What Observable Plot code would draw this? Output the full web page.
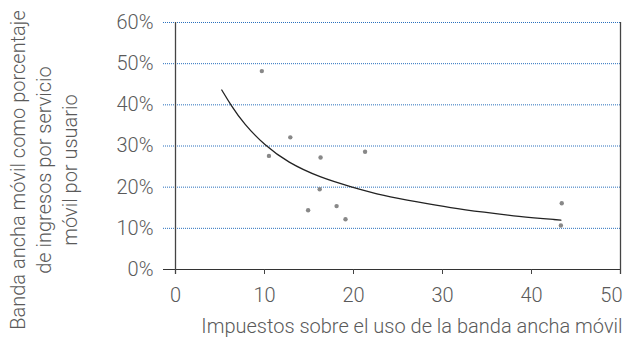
<!DOCTYPE html>
<html>
<head>
<meta charset="utf-8">
<script src="https://cdn.jsdelivr.net/npm/d3@7"></script>
<script src="https://cdn.jsdelivr.net/npm/@observablehq/plot@0.6"></script>
<style>
  html, body { margin: 0; padding: 0; background: #fff; }
</style>
</head>
<body>
<div id="chart"></div>
<script>
// Observed countries: tax on mobile broadband use (x) vs broadband share of mobile revenue per user (y, %)
const taxX   = [9.7, 12.9, 10.5, 16.3, 21.3, 16.2, 14.9, 18.1, 19.1, 43.4, 43.3];
const shareY = [48.2, 32.1, 27.6, 27.2, 28.6, 19.5, 14.4, 15.4, 12.2, 16.1, 10.7];

// Trend line
const trendX = [5.2, 6.2, 7.7, 10.0, 12.6, 16.3, 19.7, 23.4, 27.2, 30.9, 34.7, 38.4, 43.3];
const trendY = [43.6, 40.0, 35.3, 30.2, 26.0, 22.3, 20.1, 17.9, 16.4, 15.0, 13.9, 12.9, 12.0];

const xTicks = [0, 10, 20, 30, 40, 50];
const yTicks = [0, 10, 20, 30, 40, 50, 60];
const gridLevels = [10, 20, 30, 40, 50, 60];

const xTitle = "Impuestos sobre el uso de la banda ancha móvil";
const yTitle = "Banda ancha móvil como porcentaje\nde ingresos por servicio\nmóvil por usuario";

const points = taxX.map((x, i) => ({x, y: shareY[i]}));
const trend = trendX.map((x, i) => ({x, y: trendY[i]}));

const FS = 20;
const innerTicks = xTicks.slice(0, -1);
const lastTick = xTicks.slice(-1);

const chart = Plot.plot({
  width: 630,
  height: 337,
  marginLeft: 175,
  marginRight: 10,
  marginTop: 22,
  marginBottom: 68,
  style: {fontFamily: "Roboto, 'Open Sans', sans-serif", fontWeight: 300, fontSize: FS + "px", color: "#5a5a5a", background: "white"},
  x: {domain: [0, 50], label: null},
  y: {domain: [0, 60], label: null},
  marks: [
    Plot.ruleY(gridLevels, {stroke: "#2a70bd", strokeDasharray: "1,1", strokeWidth: 1, insetLeft: -12}),
    Plot.ruleY([0], {stroke: "#333", strokeWidth: 1.2, insetLeft: -12}),
    Plot.ruleX([0, 50], {stroke: "#444", strokeWidth: 1.3, insetBottom: -5}),
    Plot.axisX({ticks: innerTicks, tickSize: 5, tickPadding: 13, label: null, fontSize: FS, stroke: "#444"}),
    Plot.text(lastTick, {x: d => d, frameAnchor: "bottom", lineAnchor: "top", textAnchor: "end", dy: 18, dx: 2, fontSize: FS, fill: "#5a5a5a"}),
    Plot.axisY({ticks: yTicks, tickSize: 0, tickPadding: 22, label: null, fontSize: FS, tickFormat: d => d + "%"}),
    Plot.line(trend, {x: "x", y: "y", curve: "basis", stroke: "#222", strokeWidth: 1.3}),
    Plot.dot(points, {x: "x", y: "y", r: 2.2, fill: "#888", stroke: null}),
    Plot.text([xTitle], {frameAnchor: "bottom-right", lineAnchor: "top", textAnchor: "end", dy: 49, dx: 2, fontSize: FS, fill: "#5a5a5a"}),
    Plot.text([yTitle], {frameAnchor: "left", textAnchor: "middle", lineAnchor: "middle", rotate: -90, dx: -133, dy: 24, lineHeight: 1.3, fontSize: FS, fill: "#5a5a5a"})
  ]
});
document.getElementById("chart").appendChild(chart);
</script>
</body>
</html>
